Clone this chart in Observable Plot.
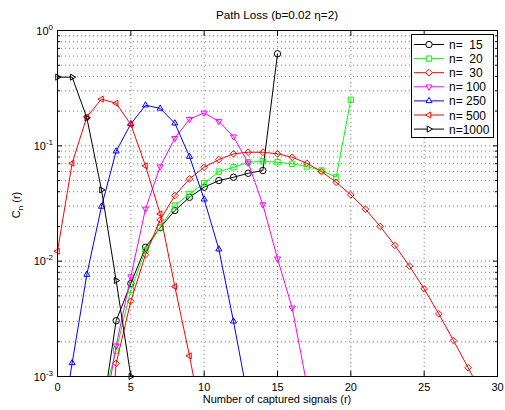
<!DOCTYPE html>
<html><head><meta charset="utf-8">
<script src="https://cdn.jsdelivr.net/npm/d3@7"></script>
<script src="https://cdn.jsdelivr.net/npm/@observablehq/plot@0.6"></script>
<style>
body{margin:0;background:#fff;}
#chart svg{font-family:"Liberation Sans",Arial,sans-serif;}
</style>
</head><body><div id="chart"></div>
<script>
// ---- data ----
const labels = ["n=  15", "n=  20", "n=  30", "n= 100", "n= 250", "n= 500", "n=1000"];
const r15 = [3,4,5,6,7,8,9,10,11,12,13,14,15];
const c15 = [0.00043,0.00305,0.0064,0.0132,0.0195,0.0275,0.0358,0.0438,0.050,0.0534,0.0578,0.0611,0.628];
const r20 = [3,4,5,6,7,8,9,10,11,12,13,14,15,16,17,18,19,20];
const c20 = [0.00057,0.00168,0.00564,0.0124,0.0197,0.0304,0.0383,0.0474,0.0598,0.0652,0.0721,0.0735,0.0721,0.0698,0.0661,0.0611,0.0534,0.251];
const r30 = [3,4,5,6,7,8,9,10,11,12,13,14,15,16,17,18,19,20,21,22,23,24,25,26,27,28,29];
const c30 = [0.00003,0.0013,0.00449,0.0114,0.0228,0.0371,0.0517,0.0652,0.076,0.0853,0.088,0.088,0.0853,0.0796,0.0707,0.0598,0.0483,0.0376,0.0282,0.020,0.0137,0.00904,0.00575,0.00349,0.00205,0.00119,0.00068];
const r100 = [3,4,5,6,7,8,9,10,11,12,13,14,15,16,17];
const c100 = [0.00034,0.00185,0.00735,0.0284,0.0661,0.1164,0.170,0.193,0.163,0.120,0.0712,0.031,0.0105,0.00394,0.00085];
const r250 = [0,1,2,3,4,5,6,7,8,9,10,11,12,13];
const c250 = [0.0002,0.00131,0.00765,0.0298,0.0898,0.155,0.225,0.211,0.157,0.0807,0.0344,0.0127,0.00301,0.00063];
const r500 = [0,1,2,3,4,5,6,7,8,9,10];
const c500 = [0.0122,0.0707,0.178,0.254,0.234,0.153,0.0671,0.0257,0.00602,0.00151,0.00033];
const r1000 = [0,1,2,3,4,5];
const c1000 = [0.394,0.394,0.175,0.0415,0.00679,0.001];

const xTicks = [0,5,10,15,20,25,30];
const yMajor = [1e-3,1e-2,1e-1,1];
const yExp = ["-3","-2","-1","0"];

// ---- styles ----
const colors = ["#000000","#00ff00","#ff0000","#ff00ff","#0000ff","#ff0000","#000000"];
const symbols = ["circle","square","diamond2","triangle2","triangle2","triangle2","triangle2"];
const rotations = [0,0,0,180,0,-90,90];
const sizes = [3.2,3.0,3.0,2.9,2.9,2.9,2.9];
const d3sym = {circle:d3.symbolCircle, square:d3.symbolSquare, diamond2:d3.symbolDiamond2, triangle2:d3.symbolTriangle2};

const rs = [r15,r20,r30,r100,r250,r500,r1000];
const cs = [c15,c20,c30,c100,c250,c500,c1000];
const series = labels.map((label,i)=>({label, rows: rs[i].map((r,j)=>({r, c: cs[i][j]}))}));

const yMinor = [];
for (const d of [-3,-2,-1]) for (let k=2;k<=9;k++) yMinor.push(+(k*Math.pow(10,d)).toPrecision(3));
const yGrid = yMinor.concat([1e-2,1e-1]);

const gridStyle = {stroke:"#000", strokeOpacity:0.5, strokeDasharray:"1,3"};
const marks = [
  Plot.ruleY(yGrid, gridStyle),
  Plot.ruleX(xTicks, gridStyle),
];
series.forEach((s,i)=>{
  marks.push(Plot.line(s.rows, {x:"r", y:"c", stroke:colors[i], strokeWidth:1, clip:true}));
  marks.push(Plot.dot(s.rows.filter(d=>d.c>=1e-3), {x:"r", y:"c", stroke:colors[i], fill:"none", strokeWidth:1,
    symbol: symbols[i], rotate: rotations[i], r: sizes[i]}));
});
const noText = ()=>"";
marks.push(
  Plot.axisY(yMajor, {anchor:"left", tickSize:-5, tickFormat:noText, label:null}),
  Plot.axisY(yMajor, {anchor:"right", tickSize:-5, tickFormat:noText, label:null}),
  Plot.axisY(yMinor, {anchor:"left", tickSize:-3, tickFormat:noText, label:null}),
  Plot.axisY(yMinor, {anchor:"right", tickSize:-3, tickFormat:noText, label:null}),
  Plot.axisX(xTicks, {anchor:"bottom", tickSize:-5, tickFormat:noText, label:null}),
  Plot.axisX(xTicks, {anchor:"top", tickSize:-5, tickFormat:noText, label:null}),
  Plot.frame({stroke:"#000"})
);

const chart = Plot.plot({
  width:505, height:410,
  marginLeft:57, marginRight:8, marginTop:30, marginBottom:34,
  style:{fontFamily:"Liberation Sans, Arial, sans-serif", fontSize:"11px", background:"#fff", overflow:"visible"},
  x:{domain:[0,30]},
  y:{type:"log", domain:[1e-3,1]},
  marks
});
document.getElementById("chart").appendChild(chart);

const svg = d3.select(chart);
const xs = chart.scale("x"), ys = chart.scale("y");
const off = 0.5;

// x tick labels
xTicks.forEach(t=>{
  svg.append("text").attr("x", xs.apply(t)+off).attr("y", 391).attr("text-anchor","middle")
    .attr("font-size",11).attr("fill","#000").text(t);
});
// y tick labels with superscripts
yMajor.forEach((v,i)=>{
  const t = svg.append("text").attr("x", 53).attr("y", ys.apply(v)+off+4).attr("text-anchor","end")
    .attr("font-size",11).attr("fill","#000");
  t.append("tspan").text("10");
  t.append("tspan").attr("dy",-5).attr("font-size",8).text(yExp[i]);
});
// title
svg.append("text").attr("x",277).attr("y",19).attr("text-anchor","middle").attr("font-size",11.7).attr("fill","#000")
  .text("Path Loss (b=0.02 η=2)");
// x label
svg.append("text").attr("x",277).attr("y",403).attr("text-anchor","middle").attr("font-size",11).attr("fill","#000")
  .text("Number of captured signals (r)");
// y label
const yl = svg.append("text").attr("transform","translate(20,205) rotate(-90)").attr("text-anchor","middle")
  .attr("font-size",11).attr("fill","#000");
yl.append("tspan").text("C");
yl.append("tspan").attr("dy",3).attr("font-size",8).text("n");
yl.append("tspan").attr("dy",-3).text(" (r)");

// legend
const lg = svg.append("g").attr("text-anchor","start");
lg.append("rect").attr("x",411.5).attr("y",34.5).attr("width",82).attr("height",103)
  .attr("fill","#fff").attr("stroke","#000");
labels.forEach((lab,i)=>{
  const y = 44.5 + i*14.1;
  lg.append("line").attr("x1",414).attr("x2",444).attr("y1",y).attr("y2",y).attr("stroke",colors[i]);
  lg.append("path").attr("d", d3.symbol(d3sym[symbols[i]], Math.PI*sizes[i]*sizes[i])())
    .attr("transform",`translate(429,${y}) rotate(${rotations[i]})`)
    .attr("fill","#fff").attr("stroke",colors[i]);
  lg.append("text").attr("x",449).attr("y",y+4.5).attr("text-anchor","start").attr("font-size",12).attr("fill","#000")
    .style("white-space","pre").text(lab);
});
</script>
</body></html>
